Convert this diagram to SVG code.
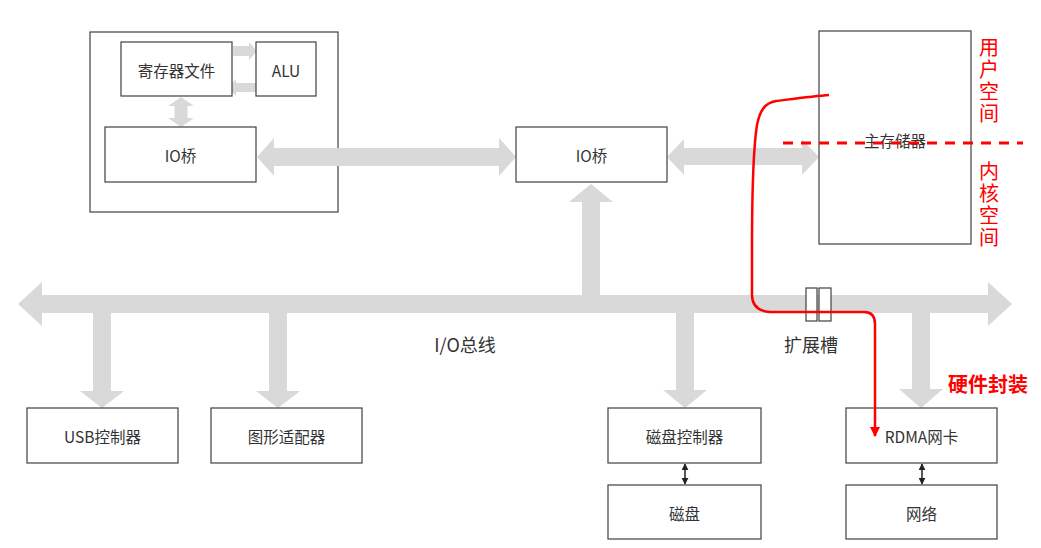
<svg xmlns="http://www.w3.org/2000/svg" width="1041" height="548" viewBox="0 0 1041 548">
<defs>
<style>
.box{fill:#fff;stroke:#404040;stroke-width:1.2}
.g{fill:#d9d9d9}
.t{font-family:"Noto Sans CJK SC","Liberation Sans",sans-serif;font-size:15.5px;fill:#333;text-anchor:middle;dominant-baseline:central}
.v{font-family:"Noto Sans CJK SC",sans-serif;font-size:20px;fill:#ff0000;writing-mode:vertical-rl;letter-spacing:2px}
.k{stroke:#222;stroke-width:1.5;fill:none}
</style>
<marker id="bh" viewBox="0 0 10 10" refX="9" refY="5" markerWidth="7" markerHeight="7" markerUnits="userSpaceOnUse" orient="auto-start-reverse">
<path d="M0,0 L10,5 L0,10 z" fill="#222"/>
</marker>
<marker id="rh" viewBox="0 0 10 10" refX="9" refY="5" markerWidth="10" markerHeight="10" markerUnits="userSpaceOnUse" orient="auto">
<path d="M0,0 L10,5 L0,10 z" fill="#ff0000"/>
</marker>
</defs>
<rect width="1041" height="548" fill="#fff"/>

<g id="cpu">
<rect class="box" x="90" y="32" width="248" height="180"/>
</g>

<g id="connectors">
<!-- I/O bus -->
<polygon class="g" points="18,304 42,282 42,295 988,295 988,282 1012,304 988,326 988,313 42,313 42,326"/>
<!-- up to IO bridge -->
<polygon class="g" points="582,296 582,202 569,202 591,184 613,202 600,202 600,296"/>
<!-- down arrows -->
<polygon class="g" points="93,312 93,391 80,391 102,408 124,391 111,391 111,312"/>
<polygon class="g" points="269,312 269,391 256,391 278,408 300,391 287,391 287,312"/>
<polygon class="g" points="676,312 676,390 663,390 685,408 707,390 694,390 694,312"/>
<polygon class="g" points="912,312 912,389 899,389 921,408 943,389 930,389 930,312"/>
<!-- left IO bridge <-> mid IO bridge -->
<polygon class="g" points="257,157 274,138 274,148 499,148 499,138 516,157 499,176 499,166 274,166 274,176"/>
<!-- mid IO bridge <-> memory -->
<polygon class="g" points="667,157 684,139 684,148 802,148 802,139 819,157 802,175 802,165 684,165 684,175"/>
<!-- reg <-> IO bridge -->
<polygon class="g" points="181,97 194,106 187.5,106 187.5,118 194,118 181,127 168,118 174.5,118 174.5,106 168,106"/>
<!-- reg -> ALU, ALU -> reg -->
<polygon class="g" points="233,46 249,46 249,42 257,51 249,60 249,56 233,56"/>
<polygon class="g" points="256,83 236,83 236,79 228,87.5 236,96 236,92 256,92"/>
<!-- small black double arrows -->
<line class="k" x1="685" y1="464" x2="685" y2="484" marker-start="url(#bh)" marker-end="url(#bh)"/>
<line class="k" x1="922" y1="464" x2="922" y2="484" marker-start="url(#bh)" marker-end="url(#bh)"/>
</g>

<g id="regfile">
<rect class="box" x="121" y="42" width="111" height="54"/>
<text class="t" x="176.5" y="70">寄存器文件</text>
</g>
<g id="alu">
<rect class="box" x="256" y="42" width="60" height="54"/>
<text class="t" x="286" y="70">ALU</text>
</g>
<g id="iobridge-cpu">
<rect class="box" x="105" y="127" width="151" height="55"/>
<text class="t" x="180.5" y="155">IO桥</text>
</g>
<g id="iobridge">
<rect class="box" x="516" y="127" width="151" height="55"/>
<text class="t" x="591.5" y="155">IO桥</text>
</g>
<g id="memory">
<rect class="box" x="819" y="31" width="152" height="213"/>
<text class="t" x="895" y="140">主存储器</text>
</g>
<g id="usb">
<rect class="box" x="27" y="408" width="151" height="55"/>
<text class="t" x="102.5" y="436">USB控制器</text>
</g>
<g id="graphics">
<rect class="box" x="211" y="408" width="151" height="55"/>
<text class="t" x="286.5" y="436">图形适配器</text>
</g>
<g id="diskctrl">
<rect class="box" x="608" y="408" width="153" height="55"/>
<text class="t" x="684.5" y="436">磁盘控制器</text>
</g>
<g id="disk">
<rect class="box" x="608" y="485" width="153" height="54"/>
<text class="t" x="684.5" y="513">磁盘</text>
</g>
<g id="rdma">
<rect class="box" x="846" y="408" width="151" height="55"/>
<text class="t" x="921.5" y="436">RDMA网卡</text>
</g>
<g id="network">
<rect class="box" x="846" y="485" width="151" height="54"/>
<text class="t" x="921.5" y="513">网络</text>
</g>
<g id="slot">
<rect class="box" x="806" y="288" width="11" height="33"/>
<rect class="box" x="819" y="288" width="12" height="33"/>
<text class="t" x="811" y="344" style="font-size:18px">扩展槽</text>
</g>
<g id="bus-label">
<text class="t" x="465" y="344" style="font-size:18px">I/O总线</text>
</g>

<g id="annotations">
<line x1="783" y1="143" x2="1023" y2="143" stroke="#ff0000" stroke-width="3" stroke-dasharray="10,8"/>
<text class="v" x="989" y="37">用户空间</text>
<text class="v" x="989" y="161">内核空间</text>
<text x="988" y="383" style="font-family:'Noto Sans CJK SC',sans-serif;font-weight:bold;font-size:20px;fill:#ff0000;text-anchor:middle;dominant-baseline:central">硬件封装</text>
<path d="M829,95 C815,96 800,98 776,101 C765,103 760,110 757,125 C753,150 752,200 752,250 L752,295 C752,306 758,311 770,312 L864,312 C871,312 875,316 875,324 L875,436" fill="none" stroke="#ff0000" stroke-width="2.5" marker-end="url(#rh)"/>
</g>
</svg>
